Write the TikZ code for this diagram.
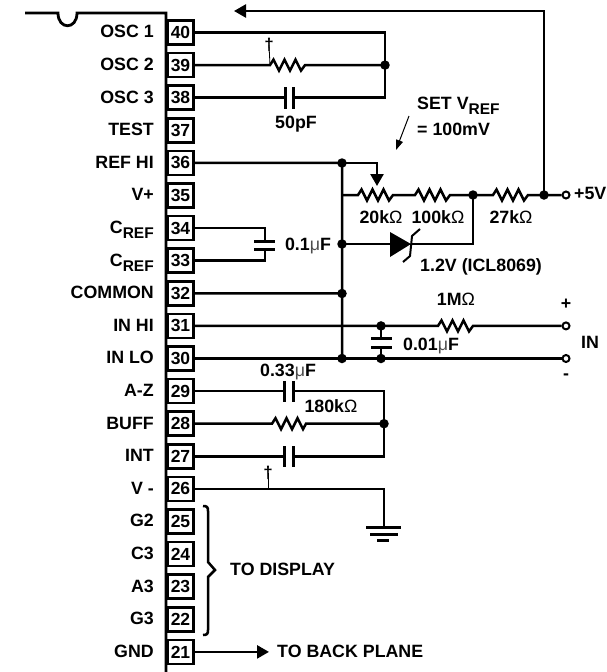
\documentclass[tikz,border=0pt]{standalone}
\usepackage{fontspec}
\setmainfont{Liberation Sans}
\usetikzlibrary{arrows.meta}
\newcommand{\om}{{\mdseries Ω}}
\newcommand{\mic}{{\mdseries\color{black!70}μ}}
\newcommand{\sbs}[1]{\raisebox{-.28em}{\fontsize{15.5}{15.5}\selectfont #1}}
\tikzset{
  x=1pt,y=-1pt,
  wire/.style={line width=2.5pt,line cap=butt,line join=miter},
  plate/.style={line width=3pt},
  thinwire/.style={line width=.8pt},
  pinbox/.style={draw,line width=2.5pt,minimum width=26pt,minimum height=24pt,inner sep=0pt,fill=white,
     font=\fontsize{17.5}{17.5}\selectfont\bfseries},
  lab/.style={inner sep=0pt,font=\fontsize{17.8}{17.8}\selectfont\bfseries,text height=12.8pt,text depth=0pt},
  pinlab/.style={lab,anchor=east},
  txt/.style={lab,anchor=west},
  dot/.style={circle,fill=black,inner sep=0pt,minimum size=9.5pt},
  hollow/.style={circle,draw,fill=white,line width=2pt,inner sep=0pt,minimum size=7pt},
  res/.style={to path={-- ++(3.5,-5.5) -- ++(5.5,11) -- ++(5.5,-11) -- ++(5.5,11) -- ++(5.5,-11) -- ++(5.5,11) -- (\tikztotarget)}},
  head/.style={-{Triangle[length=12pt,width=13pt]}},
  dagger/.style={inner sep=0pt,font=\fontsize{17}{17}\selectfont\bfseries},
}
\begin{document}
\begin{tikzpicture}
\useasboundingbox (0,0) rectangle (606,672);
% package outline
\coordinate (pkgA) at (25,13);
\coordinate (pkgB) at (58,13);
\coordinate (pkgC) at (77,13);
\coordinate (pkgD) at (166,13);
\coordinate (pkgE) at (166,672);
\draw[wire,line width=2.8pt] (pkgA) -- (pkgB) .. controls (58,30) and (77,30) .. (pkgC) -- (pkgD) -- (pkgE);
% pins
\foreach \n/\t [count=\k from 0] in {40/OSC 1,39/OSC 2,38/OSC 3,37/TEST,36/REF HI,35/V+,34/{C\sbs{REF}},33/{C\sbs{REF}},32/COMMON,31/IN HI,30/IN LO,29/A-Z,28/BUFF,27/INT,26/V -,25/G2,24/C3,23/A3,22/G3,21/GND}{
  \pgfmathsetmacro{\yy}{32.5+32.6*\k}
  \node[pinbox] (p\n) at (180.5,\yy) {\n};
  \node[pinlab] (l\n) at (154,\yy-1) {\t};
}
% oscillator
\coordinate (oscR) at (385,0);
\node[dot] (j39) at (oscR |- p39) {};
\coordinate (c38a) at (285,0 |- p38);
\coordinate (c38b) at (293,0 |- p38);
\coordinate (r39a) at (270,0 |- p39);
\coordinate (r39b) at (305,0 |- p39);
\draw[wire] (p40.east) -- (oscR |- p40) -- (oscR |- p38) -- (c38b);
\draw[wire] (p38.east) -- (c38a);
\draw[wire] (p39.east) -- (r39a) to[res] (r39b) -- (j39.center);
\draw[plate] (285,87) -- (285,109) (293,87) -- (293,109);
\node[lab] (t50) at (296,122) {50pF};
\node[dagger] (dag1) at (269,45) {†};
\draw[thinwire] (dag1.center) -- (r39a);
% +5V rail
\coordinate (topL) at (234,11);
\coordinate (railL) at (341,195);
\coordinate (r20a) at (358,195);
\coordinate (r20b) at (393,195);
\coordinate (r100a) at (415,195);
\coordinate (r100b) at (450,195);
\coordinate (r27a) at (493,195);
\coordinate (r27b) at (528,195);
\node[dot] (j473) at (473,195) {};
\node[dot] (j544) at (544,195) {};
\node[hollow] (v5) at (566,195) {};
\draw[wire] (railL) -- (r20a) to[res] (r20b) -- (r100a) to[res] (r100b) -- (j473.center) -- (r27a) to[res] (r27b) -- (j544.center) -- (v5);
\draw[wire,head] (j544.center) -- (544,11) -- (topL);
\node[txt] (t5v) at (574,193) {+5V};
% reference bus
\node[dot] (b36) at (342,163) {};
\node[dot] (b34) at (342,244) {};
\node[dot] (b32) at (342,293.5) {};
\node[dot] (b30) at (342,358.5) {};
\draw[wire] (p36.east) -- (b36.center) -- (b30.center);
\draw[wire] (p32.east) -- (b32.center);
\draw[wire,head] (b36.center) -- (377,163) -- (377,186);
% diode
\coordinate (dA) at (390,244);
\coordinate (dK) at (411,244);
\draw[wire] (b34.center) -- (dA);
\draw[wire] (dK) -- (473,244) -- (j473.center);
\fill (390,232) -- (411,244) -- (390,257) -- cycle;
\draw[line width=2pt] (420,229) -- (412,236) -- (410,256) -- (403,262);
\node[lab] (t20k) at (381,217) {20k\om};
\node[lab] (t100k) at (438,217) {100k\om};
\node[lab] (t27k) at (511,217) {27k\om};
\node[txt] (t12) at (420,265) {1.2V (ICL8069)};
% set vref
\node[txt] (tset) at (417,103) {SET V\sbs{REF}};
\node[txt] (t100) at (417,129) {= 100mV};
\coordinate (sa) at (409,116);
\coordinate (sb) at (396,150);
\draw[line width=1pt,-{Triangle[length=10pt,width=7pt]}] (sa) -- (sb);
% Cref cap
\coordinate (cr) at (265,0);
\draw[wire] (p34.east) -- (cr |- p34) -- (265,241);
\draw[wire] (p33.east) -- (cr |- p33) -- (265,249);
\draw[plate] (254,241) -- (275,241) (254,249) -- (275,249);
\node[lab] (t01) at (308,244) {0.1\mic F};
% input
\node[dot] (j31) at (381,0 |- p31) {};
\node[dot] (j30) at (381,0 |- p30) {};
\node[hollow] (inp) at (566,0 |- p31) {};
\node[hollow] (inn) at (566,0 |- p30) {};
\coordinate (r1a) at (438,0 |- p31);
\coordinate (r1b) at (473,0 |- p31);
\draw[wire] (p31.east) -- (r1a) to[res] (r1b) -- (inp);
\draw[wire] (p30.east) -- (inn);
\draw[wire] (j31.center) -- (381,338) (381,347) -- (j30.center);
\draw[plate] (371,338) -- (392,338) (371,347) -- (392,347);
\node[lab] (t1m) at (456,299) {1M\om};
\node[lab] (t001) at (431,344) {0.01\mic F};
\node[lab] (tplus) at (566,303) {+};
\node[lab] (tminus) at (566,373) {-};
\node[txt] (tin) at (581,342) {IN};
% integrator
\coordinate (iR) at (384,0);
\node[dot] (j28) at (iR |- p28) {};
\coordinate (c29a) at (284,0 |- p29);
\coordinate (c29b) at (293,0 |- p29);
\coordinate (c27a) at (284,0 |- p27);
\coordinate (c27b) at (293,0 |- p27);
\coordinate (r28a) at (272,0 |- p28);
\coordinate (r28b) at (306,0 |- p28);
\draw[wire] (p29.east) -- (c29a);
\draw[wire] (c29b) -- (iR |- p29) -- (iR |- p27) -- (c27b);
\draw[wire] (p27.east) -- (c27a);
\draw[wire] (p28.east) -- (r28a) to[res] (r28b) -- (j28.center);
\draw[plate] (284,381) -- (284,402) (293,381) -- (293,402);
\draw[plate] (284,446) -- (284,467) (293,446) -- (293,467);
\node[lab] (t033) at (288,370) {0.33\mic F};
\node[lab] (t180) at (331,406) {180k\om};
% V- and ground
\coordinate (g) at (384,527);
\draw[wire] (p26.east) -- (iR |- p26) -- (g);
\draw[plate] (366,527) -- (401,527) (370,534) -- (398,534) (377,540) -- (389,540);
\node[dagger] (dag2) at (268,473) {†};
\draw[thinwire] (dag2.center) -- (268,0 |- p26);
% display brace
\coordinate (bt) at (203,506);
\coordinate (bb) at (203,635);
\coordinate (btip) at (215,570);
\draw[wire,line join=miter] (bt) .. controls (207,506) and (208,507) .. (208,511) -- (208,562) -- (btip) -- (208,577) -- (208,630) .. controls (208,634) and (207,635) .. (bb);
\node[txt] (tdisp) at (230,569) {TO DISPLAY};
% back plane
\coordinate (bp) at (269,0 |- p21);
\draw[wire,head] (p21.east) -- (bp);
\node[txt] (tbp) at (277,651) {TO BACK PLANE};
\end{tikzpicture}
\end{document}
